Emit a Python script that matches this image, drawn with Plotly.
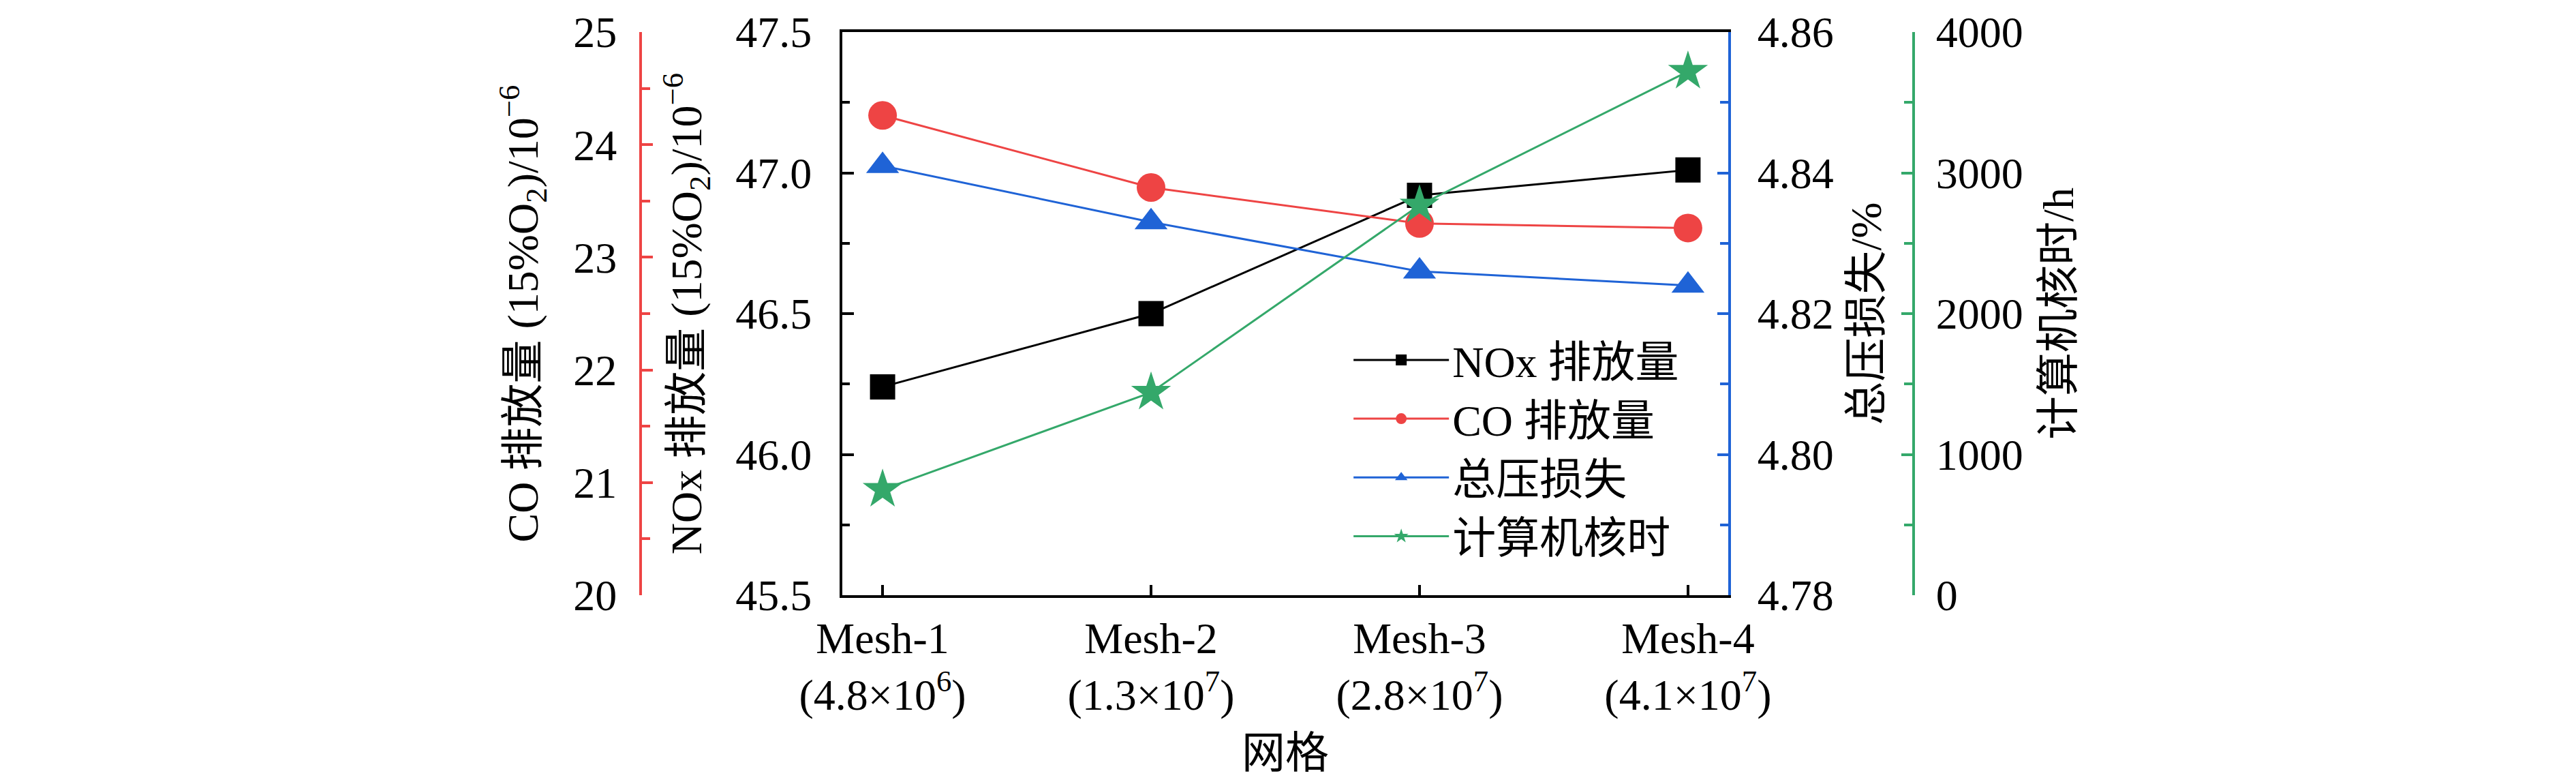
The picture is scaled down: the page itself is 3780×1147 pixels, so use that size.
import plotly.graph_objects as go

# grid cases
meshes = ['Mesh-1<br>(4.8×10<sup>6</sup>)', 'Mesh-2<br>(1.3×10<sup>7</sup>)',
          'Mesh-3<br>(2.8×10<sup>7</sup>)', 'Mesh-4<br>(4.1×10<sup>7</sup>)']
nox = [46.24, 46.50, 46.92, 47.01]
co = [24.26, 23.62, 23.30, 23.26]
loss = [4.841, 4.833, 4.826, 4.824]
core_hours = [750, 1440, 2770, 3720]

RED = '#EE4444'
BLUE = '#1F63D6'
GREEN = '#34A86A'
FONT = 'Liberation Serif, Times New Roman, Noto Sans CJK SC'
FS = 64

x = list(range(len(meshes)))

fig = go.Figure()
fig.add_trace(go.Scatter(x=x, y=nox, name='NOx 排放量', mode='lines+markers', yaxis='y',
                         line=dict(color='black', width=3),
                         marker=dict(symbol='square', size=37, color='black')))
fig.add_trace(go.Scatter(x=x, y=co, name='CO 排放量', mode='lines+markers', yaxis='y2',
                         line=dict(color=RED, width=3),
                         marker=dict(symbol='circle', size=42, color=RED)))
fig.add_trace(go.Scatter(x=x, y=loss, name='总压损失', mode='lines+markers', yaxis='y3',
                         line=dict(color=BLUE, width=3),
                         marker=dict(symbol='triangle-up', size=42, color=BLUE)))
fig.add_trace(go.Scatter(x=x, y=core_hours, name='计算机核时', mode='lines+markers', yaxis='y4',
                         line=dict(color=GREEN, width=3),
                         marker=dict(symbol='star', size=44, color=GREEN)))

tickfont = dict(family=FONT, size=FS, color='black')

fig.update_layout(
    width=3780, height=1147,
    paper_bgcolor='white', plot_bgcolor='white',
    font=dict(family=FONT, size=FS, color='black'),
    margin=dict(l=0, r=0, t=39, b=282, autoexpand=False),
    showlegend=True,
    legend=dict(x=0.522, y=0.476, xanchor='left', yanchor='top',
                bgcolor='rgba(0,0,0,0)', font=dict(family=FONT, size=FS),
                itemwidth=140, tracegroupgap=0),
    xaxis=dict(domain=[1228 / 3780, 2528 / 3780], range=[-0.15, 3.15],
               tickvals=x, ticktext=meshes, tickfont=tickfont,
               ticks='inside', ticklen=15, tickwidth=4, tickcolor='black',
               showline=True, linecolor='black', linewidth=4, mirror=True,
               showgrid=False, zeroline=False, ticklabelstandoff=4,
               title=dict(text='网格', font=dict(family=FONT, size=FS), standoff=28)),
    yaxis=dict(range=[45.5, 47.5], dtick=0.5, tickformat='.1f', tickfont=tickfont,
               ticks='inside', ticklen=17, tickwidth=4, tickcolor='black',
               minor=dict(dtick=0.25, ticks='inside', ticklen=11, tickwidth=4, tickcolor='black'),
               showline=True, linecolor='black', linewidth=4,
               showgrid=False, zeroline=False, ticklabelstandoff=28,
               title=dict(text='NOx 排放量 (15%O<sub>2</sub>)/10<sup>−6</sup>',
                          font=dict(family=FONT, size=FS), standoff=30)),
    yaxis2=dict(overlaying='y', anchor='free', position=932 / 3780, side='left',
                range=[20, 25], dtick=1, tickfont=tickfont,
                ticks='inside', ticklen=16, tickwidth=4, tickcolor=RED,
                minor=dict(dtick=0.5, ticks='inside', ticklen=12, tickwidth=4, tickcolor=RED),
                showline=True, linecolor=RED, linewidth=4,
                showgrid=False, zeroline=False, ticklabelstandoff=20,
                title=dict(text='CO 排放量 (15%O<sub>2</sub>)/10<sup>−6</sup>',
                           font=dict(family=FONT, size=FS), standoff=30)),
    yaxis3=dict(overlaying='y', anchor='x', side='right',
                range=[4.78, 4.86], dtick=0.02, tickformat='.2f', tickfont=tickfont,
                ticks='inside', ticklen=16, tickwidth=4, tickcolor=BLUE,
                minor=dict(dtick=0.01, ticks='inside', ticklen=12, tickwidth=4, tickcolor=BLUE),
                showline=True, linecolor=BLUE, linewidth=4,
                showgrid=False, zeroline=False, ticklabelstandoff=26,
                title=dict(text='总压损失/%', font=dict(family=FONT, size=FS), standoff=26)),
    yaxis4=dict(overlaying='y', anchor='free', position=2800 / 3780, side='right',
                range=[0, 4000], dtick=1000, tickfont=tickfont,
                ticks='inside', ticklen=16, tickwidth=4, tickcolor=GREEN,
                minor=dict(dtick=500, ticks='inside', ticklen=12, tickwidth=4, tickcolor=GREEN),
                showline=True, linecolor=GREEN, linewidth=4,
                showgrid=False, zeroline=False, ticklabelstandoff=18,
                title=dict(text='计算机核时/h', font=dict(family=FONT, size=FS), standoff=28)),
)

fig.write_html("out.html")
